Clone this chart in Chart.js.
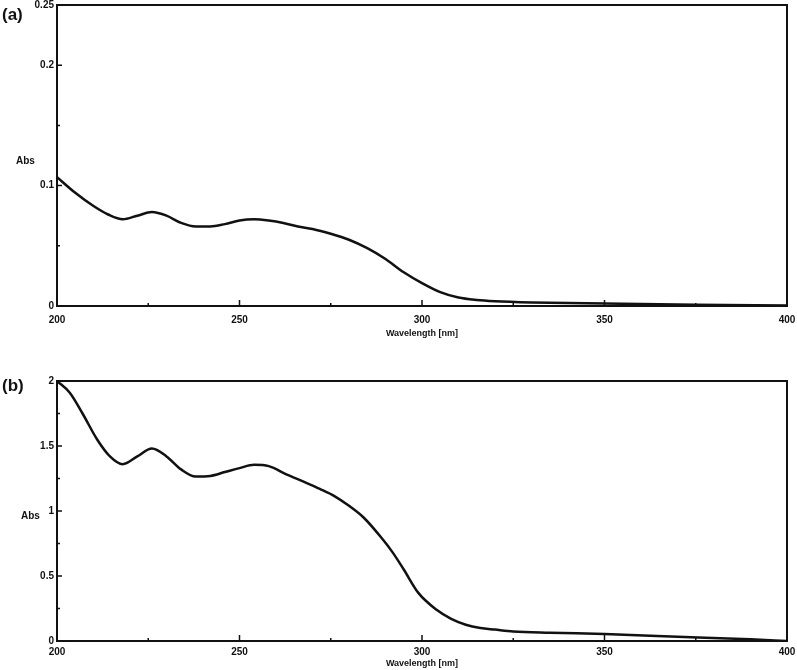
<!DOCTYPE html>
<html>
<head>
<meta charset="utf-8">
<script src="https://cdn.jsdelivr.net/npm/chart.js@4.4.1/dist/chart.umd.min.js"></script>
<style>
  html, body { margin: 0; padding: 0; background: #fff; }
  #wrap { position: relative; width: 797px; height: 670px; }
  canvas { position: absolute; left: 0; }
</style>
</head>
<body>
<div id="wrap">
  <canvas id="chartA" width="797" height="345" style="top:0"></canvas>
  <canvas id="chartB" width="797" height="325" style="top:345px"></canvas>
</div>
<script>
// spectrum (a)
const wavelengthA = [200, 205, 210, 214, 218, 222, 226, 230, 234, 238, 242, 246, 250, 254, 258, 262, 266, 270, 275, 280, 285, 290, 295, 300, 305, 310, 315, 320, 330, 350, 375, 400];
const absA = [0.107, 0.094, 0.083, 0.076, 0.072, 0.075, 0.078, 0.075, 0.069, 0.066, 0.066, 0.068, 0.071, 0.072, 0.071, 0.069, 0.066, 0.064, 0.060, 0.055, 0.048, 0.039, 0.028, 0.019, 0.0115, 0.007, 0.005, 0.004, 0.003, 0.002, 0.001, 0.0005];

// spectrum (b)
const wavelengthB = [200, 203.5, 207, 211, 214.5, 218, 222, 226, 230, 234, 238, 242, 246, 250, 254, 258, 263, 268, 272, 276, 280, 284, 289, 292, 295, 299, 304, 308, 312, 316, 320, 325, 335, 350, 370, 390, 400];
const absB = [2.0, 1.91, 1.75, 1.55, 1.42, 1.36, 1.42, 1.48, 1.42, 1.32, 1.265, 1.27, 1.30, 1.33, 1.355, 1.345, 1.28, 1.22, 1.17, 1.115, 1.04, 0.95, 0.79, 0.68, 0.55, 0.37, 0.24, 0.17, 0.125, 0.10, 0.088, 0.074, 0.064, 0.054, 0.033, 0.013, 0.0];

// tick labels
const xTicks = [200, 250, 300, 350, 400];
const xMinor = [225, 275, 325, 375];
const yTicksA = [0, 0.1, 0.2, 0.25];
const yMinorA = [0.05, 0.15];
const yTicksB = [0, 0.5, 1, 1.5, 2];
const yMinorB = [0.25, 0.75, 1.25, 1.75];

const FONT = "'Liberation Sans Narrow', 'Liberation Sans', Arial, sans-serif";

// frame, inward tick marks, panel letter and "Abs" label
const framePlugin = {
    id: 'frame',
    afterDraw(chart, args, opts) {
        const { ctx, chartArea: a, scales } = chart;
        ctx.save();
        ctx.strokeStyle = '#111';
        ctx.lineWidth = 2;
        ctx.strokeRect(a.left, a.top, a.right - a.left, a.bottom - a.top);

        ctx.lineWidth = 1.5;
        ctx.beginPath();
        xTicks.forEach(v => {
            const x = scales.x.getPixelForValue(v);
            ctx.moveTo(x, a.bottom); ctx.lineTo(x, a.bottom - 6);
        });
        xMinor.forEach(v => {
            const x = scales.x.getPixelForValue(v);
            ctx.moveTo(x, a.bottom); ctx.lineTo(x, a.bottom - 3);
        });
        opts.yMajor.forEach(v => {
            const y = scales.y.getPixelForValue(v);
            ctx.moveTo(a.left, y); ctx.lineTo(a.left + 5, y);
        });
        opts.yMinor.forEach(v => {
            const y = scales.y.getPixelForValue(v);
            ctx.moveTo(a.left, y); ctx.lineTo(a.left + 3, y);
        });
        ctx.stroke();

        ctx.fillStyle = '#111';
        ctx.textBaseline = 'middle';
        ctx.textAlign = 'left';
        ctx.font = "bold 17px 'Liberation Sans', Arial, sans-serif";
        ctx.fillText(opts.letter, 2, a.top + opts.letterDy);
        ctx.font = 'bold 10px ' + FONT;
        ctx.fillText('Abs', opts.absX, a.top + (a.bottom - a.top) * 0.52);
        ctx.restore();
    }
};

function makeChart(id, xs, ys, yMax, yTicks, yMinor, letter, top, xHeight, xPad, letterDy, absX, titlePad) {
    return new Chart(document.getElementById(id), {
        type: 'line',
        data: {
            datasets: [{
                data: xs.map((x, i) => ({ x: x, y: ys[i] })),
                borderColor: '#111',
                borderWidth: 2.5,
                pointRadius: 0,
                fill: false,
                cubicInterpolationMode: 'monotone'
            }]
        },
        options: {
            responsive: false,
            animation: false,
            devicePixelRatio: 1,
            layout: { padding: { left: 0, right: 10, top: top, bottom: 0 } },
            plugins: {
                legend: { display: false },
                tooltip: { enabled: false },
                frame: { letter: letter, yMajor: yTicks, yMinor: yMinor, letterDy: letterDy, absX: absX }
            },
            scales: {
                x: {
                    type: 'linear',
                    min: 200,
                    max: 400,
                    grid: { display: false, drawTicks: false },
                    border: { display: false },
                    afterBuildTicks: s => { s.ticks = xTicks.map(v => ({ value: v })); },
                    afterFit: s => {
                        s.height = xHeight;
                        s.paddingLeft = 0;
                        s.paddingRight = 0;
                    },
                    ticks: {
                        color: '#111',
                        padding: xPad,
                        maxRotation: 0,
                        font: { family: FONT, size: 10, weight: 'bold' },
                        callback: v => String(v)
                    },
                    title: {
                        display: true,
                        text: 'Wavelength [nm]',
                        color: '#111',
                        padding: { top: 0, bottom: titlePad },
                        font: { family: FONT, size: 9, weight: 'bold' }
                    }
                },
                y: {
                    min: 0,
                    max: yMax,
                    grid: { display: false, drawTicks: false },
                    border: { display: false },
                    afterBuildTicks: s => { s.ticks = yTicks.map(v => ({ value: v })); },
                    afterFit: s => {
                        s.width = 57;
                        s.paddingTop = 0;
                        s.paddingBottom = 0;
                    },
                    ticks: {
                        color: '#111',
                        padding: 3,
                        font: { family: FONT, size: 10, weight: 'bold' },
                        callback: v => String(v)
                    }
                }
            }
        },
        plugins: [framePlugin]
    });
}

makeChart('chartA', wavelengthA, absA, 0.25, yTicksA, yMinorA, '(a)', 5, 39, 8, 10, 16, 6);
makeChart('chartB', wavelengthB, absB, 2, yTicksB, yMinorB, '(b)', 36, 29, 5, 5, 21, 1);
</script>
</body>
</html>
